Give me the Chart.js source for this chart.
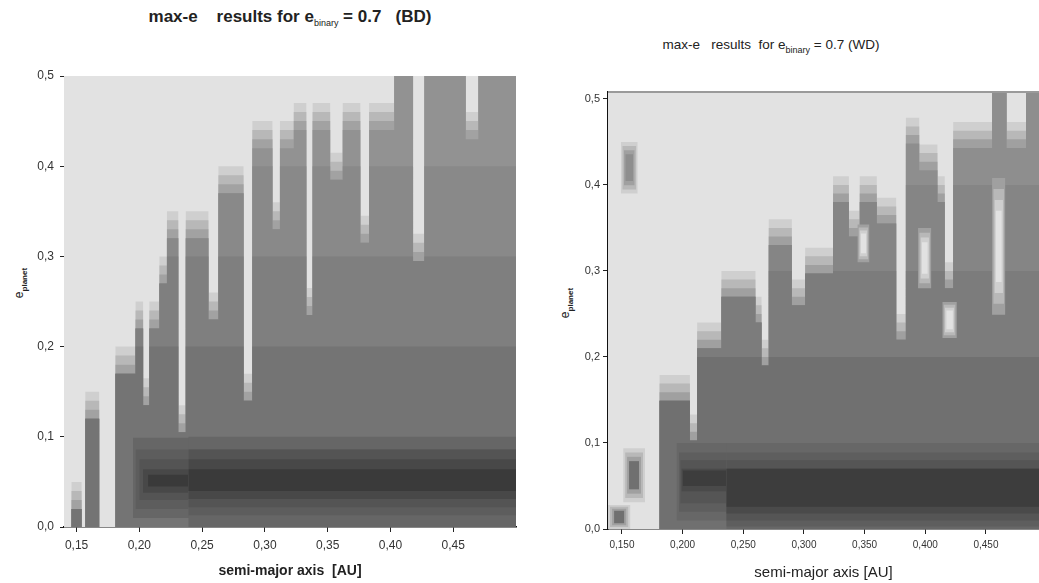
<!DOCTYPE html>
<html lang="en">
<head>
<meta charset="UTF-8">
<title>max-e results</title>
<script src="https://cdn.jsdelivr.net/npm/chart.js"></script>
<style>
  body { margin: 0; width: 1039px; height: 583px; overflow: hidden; position: relative; background: #fff;
         font-family: "Liberation Sans", Arial, sans-serif; color: #222; }
  canvas { position: absolute; top: 0; }
  .title { position: absolute; white-space: pre; text-align: center; line-height: 18px; }
  .title sub { font-size: 9px; font-weight: normal; vertical-align: -4px; }
  .ytitle { position: absolute; width: 80px; height: 16px; line-height: 16px; text-align: center;
            transform: rotate(-90deg); white-space: pre; font-size: 12px; }
  .ytitle sub { font-size: 8px; font-weight: bold; vertical-align: -4px; }
</style>
</head>
<body>
<div class="title" style="left:90px;top:8px;width:400px;font-weight:bold;font-size:17px">max-e    results for e<sub>binary</sub> = 0.7   (BD)</div>
<div class="title" style="left:571px;top:36px;width:400px;font-size:13.5px">max-e   results  for e<sub>binary</sub> = 0.7 (WD)</div>
<div class="ytitle" style="left:-21px;top:275px">e<sub>planet</sub></div>
<div class="ytitle" style="left:525px;top:295px">e<sub>planet</sub></div>
<canvas id="bd" width="530" height="583" style="left:0"></canvas>
<canvas id="wd" width="509" height="583" style="left:530px"></canvas>
<script>
// ---- tick values / labels
const yTicks = [0, 0.1, 0.2, 0.3, 0.4, 0.5];
const yTickLabels = ['0,0', '0,1', '0,2', '0,3', '0,4', '0,5'];
const xTicks = [0.15, 0.20, 0.25, 0.30, 0.35, 0.40, 0.45];
const bdXTickLabels = ['0,15', '0,20', '0,25', '0,30', '0,35', '0,40', '0,45'];
const wdXTickLabels = ['0,150', '0,200', '0,250', '0,300', '0,350', '0,400', '0,450'];

// contour bands above e=0.1 (upper e of band, max-e level)
const bandUpper = [0.6, 0.4, 0.3, 0.2];
const bandLvl = [8, 7, 6, 5];

// ---- BD: edge of the stable zone (e_planet) between a-breakpoints
const bdEdges = [0.14, 0.146, 0.154, 0.157, 0.168, 0.181, 0.197, 0.203, 0.208, 0.216, 0.222, 0.231, 0.237,
  0.255, 0.263, 0.283, 0.29, 0.306, 0.312, 0.323, 0.333, 0.338, 0.352, 0.362, 0.376, 0.383, 0.403,
  0.418, 0.427, 0.46, 0.47, 0.5];
const bdTop = [0, 0.05, 0, 0.15, 0, 0.2, 0.25, 0.165, 0.25, 0.3, 0.35, 0.135, 0.35,
  0.26, 0.4, 0.17, 0.45, 0.36, 0.45, 0.47, 0.265, 0.47, 0.415, 0.47, 0.345, 0.47, 0.55,
  0.325, 0.55, 0.46, 0.55];
// low-e core levels (start a, e range, level)
const bdCoreX0 = [0.195, 0.197, 0.200, 0.203, 0.207, 0.239, 0.239, 0.239, 0.239, 0.239];
const bdCoreLo = [0.01, 0.02, 0.03, 0.038, 0.045, 0, 0.013, 0.022, 0.031, 0.04];
const bdCoreHi = [0.099, 0.086, 0.075, 0.064, 0.058, 0.1, 0.086, 0.086, 0.075, 0.064];
const bdCoreLvl = [4, 3, 2, 1, 0, 4, 3, 2, 1, 0];

// ---- WD
const wdEdges = [0.1385, 0.181, 0.206, 0.212, 0.232, 0.26, 0.265, 0.271, 0.29, 0.301, 0.324, 0.337,
  0.346, 0.36, 0.376, 0.384, 0.395, 0.41, 0.416, 0.423, 0.455, 0.467, 0.483, 0.494];
const wdTop = [0, 0.179, 0.133, 0.24, 0.3, 0.27, 0.22, 0.36, 0.29, 0.327, 0.41, 0.37,
  0.41, 0.385, 0.25, 0.478, 0.447, 0.41, 0.31, 0.473, 0.55, 0.473, 0.55];
const wdCoreX0 = [0.195, 0.197, 0.198, 0.199, 0.200, 0.236, 0.236, 0.236, 0.236, 0.236];
const wdCoreLo = [0.01, 0.02, 0.03, 0.044, 0.05, 0, 0.003, 0.01, 0.018, 0.026];
const wdCoreHi = [0.1, 0.089, 0.08, 0.07, 0.068, 0.1, 0.089, 0.08, 0.07, 0.07];
const wdCoreLvl = [4, 3, 2, 1, 0, 4, 3, 2, 1, 0];
// isolated patches (stable blobs / unstable islands)
const wdBlobX0 = [0.1385, 0.151, 0.149, 0.344, 0.394, 0.414, 0.455];
const wdBlobX1 = [0.157, 0.169, 0.163, 0.354, 0.405, 0.426, 0.466];
const wdBlobLo = [0, 0.031, 0.39, 0.31, 0.28, 0.222, 0.249];
const wdBlobHi = [0.028, 0.094, 0.45, 0.354, 0.35, 0.264, 0.408];
const wdBlobLvl = [5, 5, 8, 12, 12, 12, 12];

const bdPalette = ['#3a3a3a', '#484848', '#545454', '#5d5d5d', '#666666', '#747474', '#7f7f7f', '#898989', '#929292',
  '#a2a2a2', '#b8b8b8', '#cfcfcf', '#e2e2e2'];
const wdPalette = ['#3d3d3d', '#4a4a4a', '#555555', '#5e5e5e', '#676767', '#707070', '#7c7c7c', '#858585', '#8e8e8e',
  '#a0a0a0', '#b8b8b8', '#cfcfcf', '#e2e2e2'];

function stepData(edges, tops, f) {
  const pts = tops.map((t, i) => ({ x: edges[i], y: Math.max(0, f(t)) }));
  pts.push({ x: edges[edges.length - 1], y: Math.max(0, f(tops[tops.length - 1])) });
  return pts;
}

function area(data, lvl, base, pal, stepped) {
  return {
    data, stepped, tension: 0, fill: { value: base },
    backgroundColor: pal[lvl], borderColor: pal[lvl], borderWidth: 0, pointRadius: 0
  };
}

function rect(x0, x1, lo, hi, lvl, pal) {
  return area([{ x: x0, y: hi }, { x: x1, y: hi }], lvl, lo, pal, false);
}

function buildLayers(edges, tops, core, blobs, xMax, pal) {
  const sets = [];
  // soft edge of the stable zone
  [11, 10, 9].forEach((l, j) => {
    sets.push(area(stepData(edges, tops, t => t - 0.01 * j), l, 0, pal, true));
  });
  bandUpper.forEach((u, k) => {
    sets.push(area(stepData(edges, tops, t => Math.min(u, t - 0.03)), bandLvl[k], 0, pal, true));
  });
  core.x0.forEach((x0, i) => sets.push(rect(x0, xMax, core.lo[i], core.hi[i], core.lvl[i], pal)));
  if (blobs) {
    blobs.x0.forEach((x0, i) => {
      const x1 = blobs.x1[i], lo = blobs.lo[i], hi = blobs.hi[i], lvl = blobs.lvl[i];
      const ring = lvl >= 11 ? [9, 10, 11, lvl] : [11, 10, 9, lvl];
      ring.forEach((l, j) => {
        const dx = (x1 - x0) * 0.09 * j, dy = (hi - lo) * 0.08 * j;
        sets.push(rect(x0 + dx, x1 - dx, lo + dy, hi - dy, l, pal));
      });
    });
  }
  // painter's order: first layer at the bottom
  sets.forEach((s, i) => { s.order = -i; });
  return sets;
}

const plotBg = {
  id: 'plotBg',
  beforeDatasetsDraw(chart, args, opts) {
    const { ctx, chartArea: a } = chart;
    ctx.save();
    ctx.fillStyle = opts.color;
    ctx.fillRect(a.left, a.top, a.width, a.height);
    ctx.restore();
  },
  afterDraw(chart, args, opts) {
    if (!opts.topLine) return;
    const { ctx, chartArea: a } = chart;
    ctx.save();
    ctx.strokeStyle = opts.topLine;
    ctx.lineWidth = 2;
    ctx.beginPath();
    ctx.moveTo(a.left, a.top);
    ctx.lineTo(a.right, a.top);
    ctx.stroke();
    ctx.restore();
  }
};

function makeChart(id, cfg) {
  new Chart(document.getElementById(id), {
    type: 'line',
    data: { datasets: cfg.datasets },
    plugins: [plotBg],
    options: {
      responsive: false,
      animation: false,
      events: [],
      devicePixelRatio: 1,
      layout: { padding: cfg.padding },
      plugins: {
        legend: { display: false },
        tooltip: { enabled: false },
        plotBg: { color: '#e2e2e2', topLine: cfg.topLine }
      },
      scales: {
        x: {
          type: 'linear', min: cfg.xMin, max: cfg.xMax, z: 1,
          afterBuildTicks: s => { s.ticks = xTicks.map(v => ({ value: v })); },
          afterFit: s => { s.height = cfg.xHeight; },
          ticks: {
            autoSkip: false, maxRotation: 0, padding: cfg.xPad, color: '#333',
            font: { family: 'Liberation Sans', size: cfg.xFont },
            callback: (v, i) => cfg.xLabels[i]
          },
          grid: { drawOnChartArea: false, tickLength: 5, color: '#222' },
          border: { display: true, color: '#111', width: 1.5 },
          title: {
            display: true, text: cfg.xTitle, color: '#222',
            font: { family: 'Liberation Sans', size: cfg.xTitleSize, weight: cfg.xTitleWeight },
            padding: { top: 2, bottom: cfg.xTitlePad }
          }
        },
        y: {
          min: 0, max: cfg.yMax, z: 1,
          afterBuildTicks: s => { s.ticks = yTicks.map(v => ({ value: v })); },
          afterFit: s => { s.width = cfg.yWidth; },
          ticks: {
            padding: cfg.yPad, color: '#333',
            font: { family: 'Liberation Sans', size: cfg.yFont },
            callback: (v, i) => yTickLabels[i]
          },
          grid: { drawOnChartArea: false, tickLength: cfg.yTick, color: '#222' },
          border: { display: cfg.yBorder, color: '#111', width: 1.5 }
        }
      }
    }
  });
}

makeChart('bd', {
  datasets: buildLayers(bdEdges, bdTop, { x0: bdCoreX0, lo: bdCoreLo, hi: bdCoreHi, lvl: bdCoreLvl }, null, 0.5, bdPalette),
  padding: { left: 0, right: 14, top: 76, bottom: 0 },
  xMin: 0.14, xMax: 0.5, yMax: 0.5,
  xLabels: bdXTickLabels, xHeight: 56, xPad: 6, xFont: 12,
  xTitle: 'semi-major axis  [AU]', xTitleSize: 14, xTitleWeight: 'bold', xTitlePad: 3,
  yWidth: 64, yPad: 6, yFont: 12, yTick: 4, yBorder: false
});

makeChart('wd', {
  datasets: buildLayers(wdEdges, wdTop, { x0: wdCoreX0, lo: wdCoreLo, hi: wdCoreHi, lvl: wdCoreLvl },
    { x0: wdBlobX0, x1: wdBlobX1, lo: wdBlobLo, hi: wdBlobHi, lvl: wdBlobLvl }, 0.494, wdPalette),
  padding: { left: 0, right: 0, top: 92, bottom: 0 },
  topLine: '#9a9a9a',
  xMin: 0.1385, xMax: 0.4937, yMax: 0.508,
  xLabels: wdXTickLabels, xHeight: 54, xPad: 5, xFont: 10,
  xTitle: 'semi-major axis [AU]', xTitleSize: 15, xTitleWeight: 'normal', xTitlePad: 1,
  yWidth: 78, yPad: 3, yFont: 11, yTick: 5, yBorder: true
});
</script>
</body>
</html>
